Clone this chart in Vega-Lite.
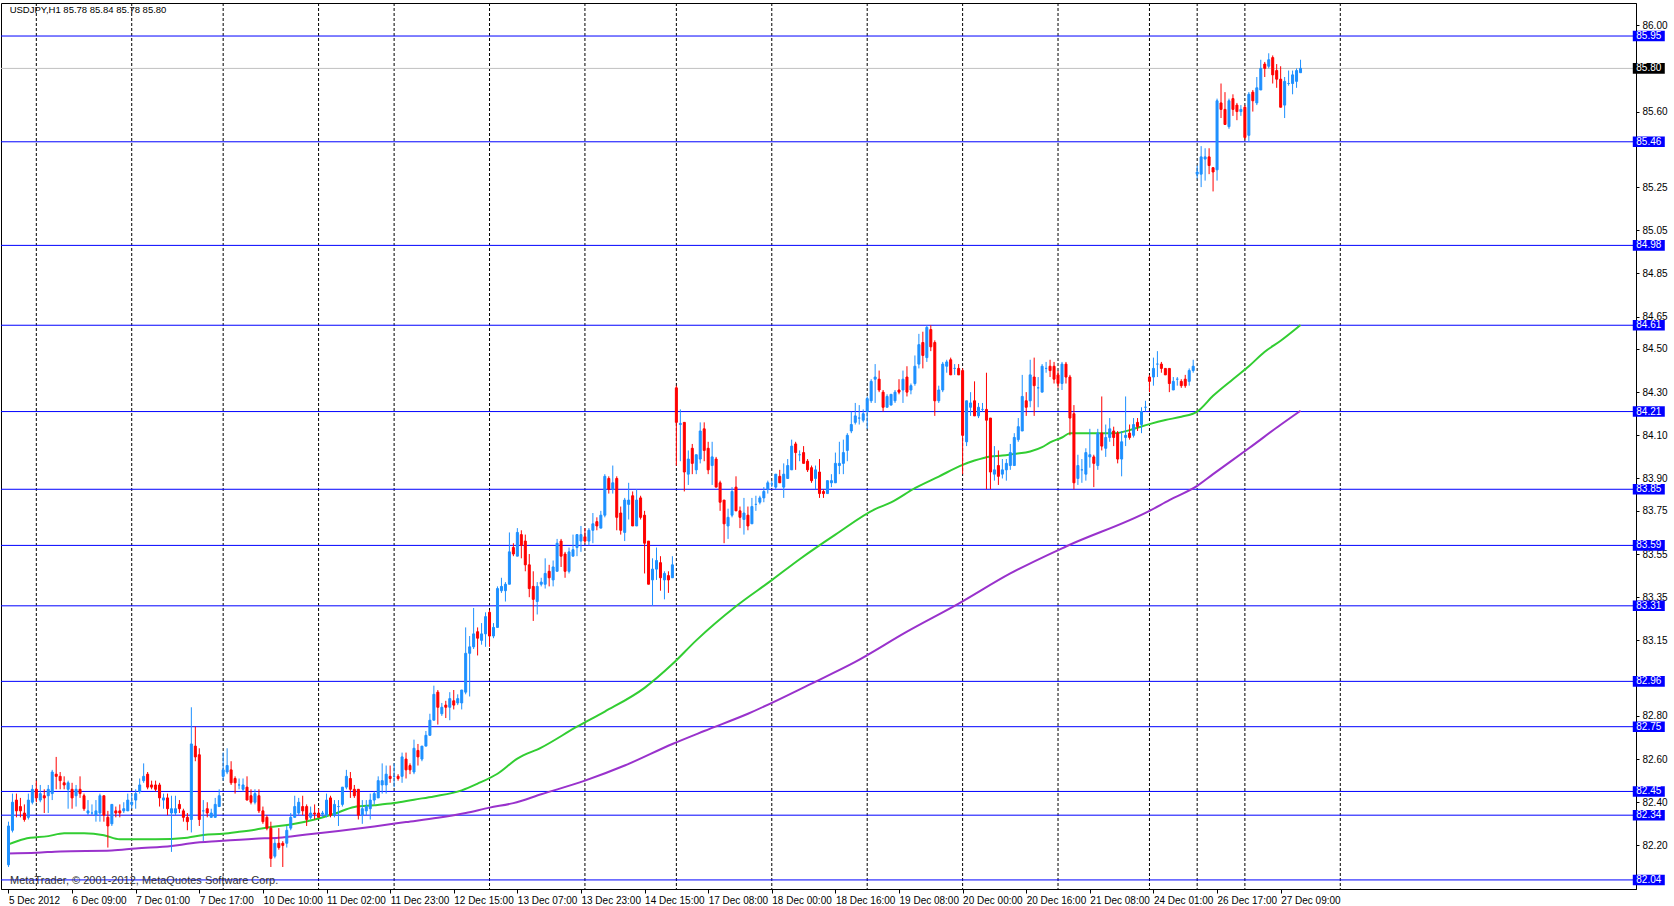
{
"$schema":"https://vega.github.io/schema/vega-lite/v6.json",
"width":1635,"height":886,
"autosize":{"type":"none"},
"padding":{"left":1,"top":3,"right":38,"bottom":17},
"background":"white",
"config":{"view":{"stroke":"#000000","strokeWidth":1},"font":"Liberation Sans"},
"resolve":{"axis":{"x":"independent","y":"independent"}},
"datasets":{
"bars":[
{"i":0,"o":82.11,"h":82.31,"l":82.10,"c":82.29},{"i":1,"o":82.27,"h":82.44,"l":82.26,"c":82.40},{"i":2,"o":82.41,"h":82.44,"l":82.33,"c":82.36},{"i":3,"o":82.38,"h":82.42,"l":82.33,"c":82.36},{"i":4,"o":82.35,"h":82.39,"l":82.31,"c":82.32},{"i":5,"o":82.33,"h":82.44,"l":82.32,"c":82.41},{"i":6,"o":82.40,"h":82.48,"l":82.39,"c":82.46},{"i":7,"o":82.46,"h":82.50,"l":82.40,"c":82.42},{"i":8,"o":82.41,"h":82.48,"l":82.40,"c":82.44},{"i":9,"o":82.43,"h":82.46,"l":82.35,"c":82.42},
{"i":10,"o":82.43,"h":82.48,"l":82.35,"c":82.46},{"i":11,"o":82.44,"h":82.55,"l":82.41,"c":82.54},{"i":12,"o":82.53,"h":82.61,"l":82.46,"c":82.52},{"i":13,"o":82.52,"h":82.54,"l":82.46,"c":82.50},{"i":14,"o":82.49,"h":82.52,"l":82.46,"c":82.48},{"i":15,"o":82.46,"h":82.50,"l":82.37,"c":82.49},{"i":16,"o":82.46,"h":82.49,"l":82.37,"c":82.42},{"i":17,"o":82.43,"h":82.48,"l":82.38,"c":82.46},{"i":18,"o":82.46,"h":82.52,"l":82.42,"c":82.44},{"i":19,"o":82.43,"h":82.44,"l":82.36,"c":82.37},
{"i":20,"o":82.35,"h":82.41,"l":82.34,"c":82.36},{"i":21,"o":82.35,"h":82.39,"l":82.34,"c":82.35},{"i":22,"o":82.34,"h":82.41,"l":82.31,"c":82.36},{"i":23,"o":82.35,"h":82.44,"l":82.31,"c":82.43},{"i":24,"o":82.43,"h":82.43,"l":82.31,"c":82.34},{"i":25,"o":82.33,"h":82.36,"l":82.19,"c":82.29},{"i":26,"o":82.30,"h":82.39,"l":82.29,"c":82.39},{"i":27,"o":82.36,"h":82.38,"l":82.33,"c":82.35},{"i":28,"o":82.36,"h":82.39,"l":82.33,"c":82.35},{"i":29,"o":82.36,"h":82.40,"l":82.35,"c":82.37},
{"i":30,"o":82.36,"h":82.44,"l":82.36,"c":82.41},{"i":31,"o":82.39,"h":82.44,"l":82.37,"c":82.40},{"i":32,"o":82.41,"h":82.46,"l":82.37,"c":82.44},{"i":33,"o":82.45,"h":82.51,"l":82.44,"c":82.48},{"i":34,"o":82.50,"h":82.58,"l":82.49,"c":82.52},{"i":35,"o":82.53,"h":82.54,"l":82.46,"c":82.47},{"i":36,"o":82.48,"h":82.50,"l":82.46,"c":82.47},{"i":37,"o":82.48,"h":82.50,"l":82.45,"c":82.46},{"i":38,"o":82.48,"h":82.49,"l":82.38,"c":82.42},{"i":39,"o":82.41,"h":82.44,"l":82.37,"c":82.42},
{"i":40,"o":82.42,"h":82.44,"l":82.34,"c":82.37},{"i":41,"o":82.35,"h":82.43,"l":82.17,"c":82.37},{"i":42,"o":82.35,"h":82.43,"l":82.34,"c":82.37},{"i":43,"o":82.39,"h":82.41,"l":82.35,"c":82.37},{"i":44,"o":82.36,"h":82.37,"l":82.31,"c":82.33},{"i":45,"o":82.33,"h":82.35,"l":82.27,"c":82.31},{"i":46,"o":82.32,"h":82.84,"l":82.26,"c":82.67},{"i":47,"o":82.66,"h":82.75,"l":82.59,"c":82.61},{"i":48,"o":82.62,"h":82.65,"l":82.29,"c":82.32},{"i":49,"o":82.36,"h":82.41,"l":82.22,"c":82.36},
{"i":50,"o":82.37,"h":82.40,"l":82.33,"c":82.35},{"i":51,"o":82.33,"h":82.37,"l":82.33,"c":82.35},{"i":52,"o":82.33,"h":82.42,"l":82.33,"c":82.39},{"i":53,"o":82.38,"h":82.46,"l":82.38,"c":82.43},{"i":54,"o":82.52,"h":82.63,"l":82.50,"c":82.55},{"i":55,"o":82.54,"h":82.65,"l":82.53,"c":82.57},{"i":56,"o":82.55,"h":82.59,"l":82.48,"c":82.49},{"i":57,"o":82.51,"h":82.52,"l":82.44,"c":82.49},{"i":58,"o":82.48,"h":82.51,"l":82.46,"c":82.48},{"i":59,"o":82.46,"h":82.51,"l":82.45,"c":82.48},
{"i":60,"o":82.47,"h":82.52,"l":82.41,"c":82.41},{"i":61,"o":82.43,"h":82.46,"l":82.39,"c":82.40},{"i":62,"o":82.40,"h":82.46,"l":82.39,"c":82.44},{"i":63,"o":82.43,"h":82.46,"l":82.35,"c":82.36},{"i":64,"o":82.36,"h":82.38,"l":82.30,"c":82.31},{"i":65,"o":82.33,"h":82.34,"l":82.27,"c":82.28},{"i":66,"o":82.28,"h":82.31,"l":82.10,"c":82.14},{"i":67,"o":82.15,"h":82.23,"l":82.14,"c":82.21},{"i":68,"o":82.21,"h":82.28,"l":82.18,"c":82.19},{"i":69,"o":82.21,"h":82.22,"l":82.10,"c":82.20},
{"i":70,"o":82.21,"h":82.29,"l":82.19,"c":82.27},{"i":71,"o":82.28,"h":82.35,"l":82.27,"c":82.33},{"i":72,"o":82.33,"h":82.43,"l":82.33,"c":82.38},{"i":73,"o":82.35,"h":82.42,"l":82.34,"c":82.40},{"i":74,"o":82.38,"h":82.43,"l":82.34,"c":82.36},{"i":75,"o":82.38,"h":82.39,"l":82.29,"c":82.32},{"i":76,"o":82.33,"h":82.38,"l":82.32,"c":82.35},{"i":77,"o":82.35,"h":82.39,"l":82.32,"c":82.345},{"i":78,"o":82.35,"h":82.37,"l":82.33,"c":82.33},{"i":79,"o":82.345,"h":82.36,"l":82.33,"c":82.35},
{"i":80,"o":82.34,"h":82.44,"l":82.33,"c":82.41},{"i":81,"o":82.42,"h":82.43,"l":82.33,"c":82.34},{"i":82,"o":82.34,"h":82.41,"l":82.33,"c":82.39},{"i":83,"o":82.38,"h":82.41,"l":82.29,"c":82.38},{"i":84,"o":82.39,"h":82.47,"l":82.38,"c":82.47},{"i":85,"o":82.47,"h":82.55,"l":82.46,"c":82.52},{"i":86,"o":82.51,"h":82.54,"l":82.42,"c":82.46},{"i":87,"o":82.46,"h":82.48,"l":82.42,"c":82.43},{"i":88,"o":82.46,"h":82.46,"l":82.32,"c":82.34},{"i":89,"o":82.34,"h":82.41,"l":82.30,"c":82.37},
{"i":90,"o":82.36,"h":82.41,"l":82.34,"c":82.38},{"i":91,"o":82.37,"h":82.44,"l":82.32,"c":82.41},{"i":92,"o":82.41,"h":82.45,"l":82.39,"c":82.44},{"i":93,"o":82.42,"h":82.52,"l":82.42,"c":82.50},{"i":94,"o":82.48,"h":82.58,"l":82.44,"c":82.50},{"i":95,"o":82.48,"h":82.57,"l":82.44,"c":82.53},{"i":96,"o":82.52,"h":82.57,"l":82.49,"c":82.51},{"i":97,"o":82.52,"h":82.58,"l":82.47,"c":82.52},{"i":98,"o":82.52,"h":82.53,"l":82.50,"c":82.51},{"i":99,"o":82.52,"h":82.63,"l":82.49,"c":82.61},
{"i":100,"o":82.60,"h":82.63,"l":82.51,"c":82.55},{"i":101,"o":82.57,"h":82.58,"l":82.53,"c":82.55},{"i":102,"o":82.54,"h":82.69,"l":82.53,"c":82.65},{"i":103,"o":82.64,"h":82.67,"l":82.57,"c":82.61},{"i":104,"o":82.60,"h":82.66,"l":82.59,"c":82.66},{"i":105,"o":82.66,"h":82.73,"l":82.66,"c":82.71},{"i":106,"o":82.71,"h":82.81,"l":82.71,"c":82.78},{"i":107,"o":82.78,"h":82.94,"l":82.78,"c":82.90},{"i":108,"o":82.91,"h":82.92,"l":82.76,"c":82.84},{"i":109,"o":82.81,"h":82.86,"l":82.80,"c":82.84},
{"i":110,"o":82.85,"h":82.87,"l":82.79,"c":82.84},{"i":111,"o":82.84,"h":82.91,"l":82.78,"c":82.88},{"i":112,"o":82.87,"h":82.92,"l":82.83,"c":82.85},{"i":113,"o":82.86,"h":82.90,"l":82.85,"c":82.88},{"i":114,"o":82.86,"h":82.92,"l":82.83,"c":82.92},{"i":115,"o":82.91,"h":83.21,"l":82.90,"c":83.09},{"i":116,"o":83.09,"h":83.17,"l":82.89,"c":83.12},{"i":117,"o":83.12,"h":83.30,"l":83.11,"c":83.18},{"i":118,"o":83.19,"h":83.21,"l":83.08,"c":83.16},{"i":119,"o":83.15,"h":83.23,"l":83.13,"c":83.18},
{"i":120,"o":83.18,"h":83.28,"l":83.12,"c":83.26},{"i":121,"o":83.28,"h":83.29,"l":83.12,"c":83.17},{"i":122,"o":83.17,"h":83.23,"l":83.16,"c":83.21},{"i":123,"o":83.21,"h":83.40,"l":83.21,"c":83.39},{"i":124,"o":83.38,"h":83.44,"l":83.37,"c":83.40},{"i":125,"o":83.38,"h":83.42,"l":83.33,"c":83.41},{"i":126,"o":83.41,"h":83.65,"l":83.41,"c":83.56},{"i":127,"o":83.58,"h":83.60,"l":83.54,"c":83.55},{"i":128,"o":83.54,"h":83.67,"l":83.54,"c":83.65},{"i":129,"o":83.64,"h":83.66,"l":83.53,"c":83.59},
{"i":130,"o":83.61,"h":83.64,"l":83.47,"c":83.50},{"i":131,"o":83.50,"h":83.55,"l":83.35,"c":83.39},{"i":132,"o":83.40,"h":83.47,"l":83.24,"c":83.34},{"i":133,"o":83.33,"h":83.42,"l":83.27,"c":83.40},{"i":134,"o":83.41,"h":83.44,"l":83.40,"c":83.42},{"i":135,"o":83.41,"h":83.53,"l":83.39,"c":83.46},{"i":136,"o":83.47,"h":83.50,"l":83.40,"c":83.44},{"i":137,"o":83.43,"h":83.52,"l":83.40,"c":83.49},{"i":138,"o":83.47,"h":83.62,"l":83.47,"c":83.60},{"i":139,"o":83.61,"h":83.62,"l":83.49,"c":83.54},
{"i":140,"o":83.55,"h":83.56,"l":83.44,"c":83.47},{"i":141,"o":83.47,"h":83.58,"l":83.46,"c":83.56},{"i":142,"o":83.54,"h":83.64,"l":83.54,"c":83.57},{"i":143,"o":83.58,"h":83.64,"l":83.54,"c":83.64},{"i":144,"o":83.61,"h":83.68,"l":83.56,"c":83.64},{"i":145,"o":83.63,"h":83.67,"l":83.60,"c":83.61},{"i":146,"o":83.61,"h":83.67,"l":83.59,"c":83.66},{"i":147,"o":83.66,"h":83.74,"l":83.60,"c":83.69},{"i":148,"o":83.70,"h":83.72,"l":83.66,"c":83.68},{"i":149,"o":83.67,"h":83.75,"l":83.67,"c":83.73},
{"i":150,"o":83.73,"h":83.92,"l":83.72,"c":83.91},{"i":151,"o":83.90,"h":83.91,"l":83.83,"c":83.85},{"i":152,"o":83.85,"h":83.96,"l":83.83,"c":83.88},{"i":153,"o":83.90,"h":83.91,"l":83.66,"c":83.72},{"i":154,"o":83.74,"h":83.77,"l":83.64,"c":83.66},{"i":155,"o":83.65,"h":83.81,"l":83.61,"c":83.80},{"i":156,"o":83.78,"h":83.88,"l":83.71,"c":83.80},{"i":157,"o":83.82,"h":83.84,"l":83.68,"c":83.68},{"i":158,"o":83.68,"h":83.85,"l":83.68,"c":83.80},{"i":159,"o":83.81,"h":83.82,"l":83.71,"c":83.72},
{"i":160,"o":83.73,"h":83.75,"l":83.46,"c":83.60},{"i":161,"o":83.61,"h":83.61,"l":83.41,"c":83.41},{"i":162,"o":83.43,"h":83.53,"l":83.31,"c":83.48},{"i":163,"o":83.48,"h":83.58,"l":83.43,"c":83.52},{"i":164,"o":83.51,"h":83.54,"l":83.38,"c":83.44},{"i":165,"o":83.43,"h":83.47,"l":83.34,"c":83.46},{"i":166,"o":83.45,"h":83.47,"l":83.37,"c":83.43},{"i":167,"o":83.44,"h":83.54,"l":83.44,"c":83.50},{"i":168,"o":84.32,"h":84.33,"l":83.96,"c":84.16},{"i":169,"o":84.15,"h":84.22,"l":83.98,"c":84.155},
{"i":170,"o":84.16,"h":84.16,"l":83.84,"c":83.93},{"i":171,"o":83.92,"h":84.03,"l":83.87,"c":83.99},{"i":172,"o":84.04,"h":84.06,"l":83.92,"c":83.97},{"i":173,"o":83.94,"h":84.01,"l":83.92,"c":84.01},{"i":174,"o":83.99,"h":84.16,"l":83.97,"c":84.12},{"i":175,"o":84.13,"h":84.16,"l":83.98,"c":84.03},{"i":176,"o":84.04,"h":84.07,"l":83.92,"c":83.94},{"i":177,"o":83.96,"h":84.07,"l":83.87,"c":84.00},{"i":178,"o":83.99,"h":84.00,"l":83.86,"c":83.86},{"i":179,"o":83.88,"h":83.89,"l":83.75,"c":83.79},
{"i":180,"o":83.80,"h":83.80,"l":83.60,"c":83.69},{"i":181,"o":83.68,"h":83.76,"l":83.62,"c":83.72},{"i":182,"o":83.73,"h":83.86,"l":83.72,"c":83.84},{"i":183,"o":83.86,"h":83.91,"l":83.75,"c":83.75},{"i":184,"o":83.75,"h":83.77,"l":83.67,"c":83.72},{"i":185,"o":83.71,"h":83.81,"l":83.64,"c":83.74},{"i":186,"o":83.73,"h":83.77,"l":83.66,"c":83.68},{"i":187,"o":83.69,"h":83.81,"l":83.69,"c":83.77},{"i":188,"o":83.78,"h":83.82,"l":83.75,"c":83.78},{"i":189,"o":83.79,"h":83.82,"l":83.78,"c":83.81},
{"i":190,"o":83.81,"h":83.86,"l":83.79,"c":83.84},{"i":191,"o":83.85,"h":83.89,"l":83.83,"c":83.88},{"i":192,"o":83.875,"h":83.89,"l":83.86,"c":83.875},{"i":193,"o":83.86,"h":83.92,"l":83.85,"c":83.92},{"i":194,"o":83.91,"h":83.94,"l":83.88,"c":83.88},{"i":195,"o":83.86,"h":83.97,"l":83.81,"c":83.92},{"i":196,"o":83.90,"h":83.99,"l":83.90,"c":83.96},{"i":197,"o":83.94,"h":84.08,"l":83.94,"c":84.05},{"i":198,"o":84.06,"h":84.07,"l":83.94,"c":84.02},{"i":199,"o":84.01,"h":84.03,"l":83.98,"c":84.01},
{"i":200,"o":84.02,"h":84.05,"l":83.97,"c":83.97},{"i":201,"o":83.98,"h":83.99,"l":83.93,"c":83.94},{"i":202,"o":83.95,"h":83.96,"l":83.88,"c":83.89},{"i":203,"o":83.90,"h":83.96,"l":83.85,"c":83.94},{"i":204,"o":83.93,"h":83.99,"l":83.81,"c":83.83},{"i":205,"o":83.84,"h":83.85,"l":83.81,"c":83.83},{"i":206,"o":83.83,"h":83.89,"l":83.83,"c":83.89},{"i":207,"o":83.88,"h":83.92,"l":83.86,"c":83.89},{"i":208,"o":83.88,"h":84.02,"l":83.88,"c":83.97},{"i":209,"o":83.96,"h":84.07,"l":83.92,"c":83.97},
{"i":210,"o":83.97,"h":84.08,"l":83.92,"c":84.02},{"i":211,"o":84.03,"h":84.11,"l":83.98,"c":84.10},{"i":212,"o":84.12,"h":84.21,"l":84.11,"c":84.15},{"i":213,"o":84.16,"h":84.25,"l":84.15,"c":84.19},{"i":214,"o":84.18,"h":84.24,"l":84.15,"c":84.18},{"i":215,"o":84.17,"h":84.22,"l":84.16,"c":84.20},{"i":216,"o":84.21,"h":84.28,"l":84.13,"c":84.27},{"i":217,"o":84.26,"h":84.36,"l":84.25,"c":84.35},{"i":218,"o":84.36,"h":84.43,"l":84.25,"c":84.37},{"i":219,"o":84.36,"h":84.40,"l":84.30,"c":84.31},
{"i":220,"o":84.30,"h":84.31,"l":84.21,"c":84.23},{"i":221,"o":84.23,"h":84.29,"l":84.23,"c":84.28},{"i":222,"o":84.24,"h":84.29,"l":84.24,"c":84.29},{"i":223,"o":84.26,"h":84.31,"l":84.25,"c":84.30},{"i":224,"o":84.31,"h":84.36,"l":84.29,"c":84.30},{"i":225,"o":84.31,"h":84.40,"l":84.25,"c":84.36},{"i":226,"o":84.37,"h":84.42,"l":84.28,"c":84.30},{"i":227,"o":84.31,"h":84.34,"l":84.29,"c":84.33},{"i":228,"o":84.34,"h":84.47,"l":84.33,"c":84.42},{"i":229,"o":84.43,"h":84.57,"l":84.41,"c":84.52},
{"i":230,"o":84.53,"h":84.58,"l":84.41,"c":84.47},{"i":231,"o":84.46,"h":84.61,"l":84.44,"c":84.60},{"i":232,"o":84.59,"h":84.61,"l":84.49,"c":84.51},{"i":233,"o":84.53,"h":84.54,"l":84.19,"c":84.26},{"i":234,"o":84.26,"h":84.33,"l":84.25,"c":84.31},{"i":235,"o":84.31,"h":84.44,"l":84.30,"c":84.43},{"i":236,"o":84.42,"h":84.45,"l":84.39,"c":84.44},{"i":237,"o":84.45,"h":84.46,"l":84.38,"c":84.38},{"i":238,"o":84.41,"h":84.43,"l":84.38,"c":84.41},{"i":239,"o":84.41,"h":84.43,"l":84.38,"c":84.38},
{"i":240,"o":84.40,"h":84.41,"l":83.92,"c":84.10},{"i":241,"o":84.07,"h":84.26,"l":84.05,"c":84.26},{"i":242,"o":84.23,"h":84.30,"l":84.19,"c":84.25},{"i":243,"o":84.26,"h":84.35,"l":84.19,"c":84.19},{"i":244,"o":84.19,"h":84.25,"l":84.18,"c":84.23},{"i":245,"o":84.22,"h":84.25,"l":84.21,"c":84.22},{"i":246,"o":84.22,"h":84.39,"l":83.85,"c":84.17},{"i":247,"o":84.18,"h":84.18,"l":83.85,"c":83.93},{"i":248,"o":83.92,"h":84.05,"l":83.89,"c":83.94},{"i":249,"o":83.96,"h":84.03,"l":83.87,"c":83.91},
{"i":250,"o":83.92,"h":83.99,"l":83.90,"c":83.94},{"i":251,"o":83.94,"h":83.99,"l":83.89,"c":83.97},{"i":252,"o":83.96,"h":84.06,"l":83.94,"c":84.02},{"i":253,"o":83.96,"h":84.11,"l":83.96,"c":84.09},{"i":254,"o":84.08,"h":84.18,"l":84.07,"c":84.14},{"i":255,"o":84.12,"h":84.38,"l":84.12,"c":84.28},{"i":256,"o":84.26,"h":84.30,"l":84.19,"c":84.23},{"i":257,"o":84.26,"h":84.45,"l":84.23,"c":84.38},{"i":258,"o":84.37,"h":84.46,"l":84.19,"c":84.33},{"i":259,"o":84.32,"h":84.37,"l":84.23,"c":84.32},
{"i":260,"o":84.30,"h":84.43,"l":84.30,"c":84.42},{"i":261,"o":84.41,"h":84.44,"l":84.39,"c":84.41},{"i":262,"o":84.42,"h":84.45,"l":84.37,"c":84.40},{"i":263,"o":84.42,"h":84.44,"l":84.34,"c":84.36},{"i":264,"o":84.38,"h":84.40,"l":84.32,"c":84.34},{"i":265,"o":84.34,"h":84.44,"l":84.31,"c":84.43},{"i":266,"o":84.43,"h":84.44,"l":84.34,"c":84.37},{"i":267,"o":84.37,"h":84.38,"l":84.10,"c":84.18},{"i":268,"o":84.20,"h":84.24,"l":83.85,"c":83.88},{"i":269,"o":83.90,"h":84.01,"l":83.87,"c":83.96},
{"i":270,"o":83.94,"h":83.99,"l":83.88,"c":83.94},{"i":271,"o":83.92,"h":84.04,"l":83.89,"c":84.02},{"i":272,"o":84.00,"h":84.13,"l":83.95,"c":84.01},{"i":273,"o":84.00,"h":84.01,"l":83.86,"c":83.97},{"i":274,"o":83.96,"h":84.13,"l":83.94,"c":84.11},{"i":275,"o":84.11,"h":84.28,"l":84.03,"c":84.05},{"i":276,"o":84.04,"h":84.15,"l":84.00,"c":84.09},{"i":277,"o":84.09,"h":84.18,"l":84.07,"c":84.13},{"i":278,"o":84.12,"h":84.14,"l":84.05,"c":84.09},{"i":279,"o":84.11,"h":84.12,"l":83.97,"c":83.99},
{"i":280,"o":83.99,"h":84.12,"l":83.91,"c":84.07},{"i":281,"o":84.09,"h":84.28,"l":84.05,"c":84.10},{"i":282,"o":84.11,"h":84.15,"l":84.08,"c":84.09},{"i":283,"o":84.10,"h":84.18,"l":84.09,"c":84.15},{"i":284,"o":84.16,"h":84.18,"l":84.12,"c":84.14},{"i":285,"o":84.15,"h":84.23,"l":84.11,"c":84.21},{"i":286,"o":84.23,"h":84.26,"l":84.21,"c":84.23},{"i":287,"o":84.37,"h":84.38,"l":84.30,"c":84.35},{"i":288,"o":84.37,"h":84.46,"l":84.33,"c":84.41},{"i":289,"o":84.43,"h":84.49,"l":84.37,"c":84.43},
{"i":290,"o":84.43,"h":84.44,"l":84.39,"c":84.41},{"i":291,"o":84.41,"h":84.41,"l":84.38,"c":84.38},{"i":292,"o":84.41,"h":84.41,"l":84.30,"c":84.34},{"i":293,"o":84.31,"h":84.37,"l":84.31,"c":84.35},{"i":294,"o":84.36,"h":84.37,"l":84.33,"c":84.36},{"i":295,"o":84.35,"h":84.36,"l":84.32,"c":84.33},{"i":296,"o":84.36,"h":84.38,"l":84.32,"c":84.33},{"i":297,"o":84.35,"h":84.41,"l":84.33,"c":84.40},{"i":298,"o":84.40,"h":84.45,"l":84.39,"c":84.42},{"i":299,"o":85.31,"h":85.35,"l":85.29,"c":85.32},
{"i":300,"o":85.31,"h":85.44,"l":85.25,"c":85.39},{"i":301,"o":85.38,"h":85.43,"l":85.28,"c":85.39},{"i":302,"o":85.39,"h":85.43,"l":85.31,"c":85.35},{"i":303,"o":85.34,"h":85.34,"l":85.23,"c":85.32},{"i":304,"o":85.33,"h":85.66,"l":85.28,"c":85.65},{"i":305,"o":85.64,"h":85.73,"l":85.57,"c":85.61},{"i":306,"o":85.61,"h":85.69,"l":85.54,"c":85.54},{"i":307,"o":85.53,"h":85.66,"l":85.52,"c":85.65},{"i":308,"o":85.66,"h":85.68,"l":85.58,"c":85.61},{"i":309,"o":85.63,"h":85.64,"l":85.56,"c":85.60},
{"i":310,"o":85.60,"h":85.63,"l":85.58,"c":85.61},{"i":311,"o":85.62,"h":85.63,"l":85.47,"c":85.48},{"i":312,"o":85.49,"h":85.69,"l":85.46,"c":85.68},{"i":313,"o":85.69,"h":85.70,"l":85.60,"c":85.65},{"i":314,"o":85.64,"h":85.76,"l":85.63,"c":85.71},{"i":315,"o":85.70,"h":85.84,"l":85.70,"c":85.80},{"i":316,"o":85.82,"h":85.83,"l":85.76,"c":85.80},{"i":317,"o":85.81,"h":85.87,"l":85.80,"c":85.84},{"i":318,"o":85.85,"h":85.86,"l":85.73,"c":85.77},{"i":319,"o":85.79,"h":85.82,"l":85.71,"c":85.75},
{"i":320,"o":85.75,"h":85.81,"l":85.62,"c":85.62},{"i":321,"o":85.63,"h":85.76,"l":85.57,"c":85.74},{"i":322,"o":85.73,"h":85.79,"l":85.72,"c":85.73},{"i":323,"o":85.73,"h":85.79,"l":85.68,"c":85.77},{"i":324,"o":85.74,"h":85.80,"l":85.71,"c":85.79},{"i":325,"o":85.78,"h":85.84,"l":85.78,"c":85.80}
],
"green":[
{"i":0,"v":82.205},{"i":4,"v":82.23},{"i":10,"v":82.243},{"i":14,"v":82.256},{"i":19,"v":82.256},{"i":24,"v":82.247},{"i":28,"v":82.228},{"i":37,"v":82.228},{"i":45,"v":82.236},{"i":49,"v":82.248},{"i":54,"v":82.254},{"i":58,"v":82.263},{"i":62,"v":82.273},{"i":66,"v":82.285},{"i":72,"v":82.30},{"i":77,"v":82.32},{"i":82,"v":82.347},{"i":87,"v":82.378},{"i":92,"v":82.386},{"i":97,"v":82.396},{"i":102,"v":82.412},{"i":107,"v":82.427},{"i":114,"v":82.455},{"i":118,"v":82.486},{"i":123,"v":82.532},{"i":128,"v":82.602},{"i":134,"v":82.653},{"i":143,"v":82.75},{"i":150,"v":82.82},{"i":160,"v":82.93},{"i":167,"v":83.04},{"i":173,"v":83.15},{"i":183,"v":83.308},{"i":192,"v":83.429},{"i":199,"v":83.526},{"i":208,"v":83.64},{"i":218,"v":83.758},{"i":222,"v":83.789},{"i":228,"v":83.855},{"i":234,"v":83.909},{"i":240,"v":83.963},{"i":243,"v":83.983},{"i":247,"v":84.002},{"i":250,"v":84.006},{"i":253,"v":84.014},{"i":257,"v":84.025},{"i":260,"v":84.045},{"i":262,"v":84.067},{"i":265,"v":84.09},{"i":267,"v":84.109},{"i":278,"v":84.109},{"i":282,"v":84.124},{"i":287,"v":84.152},{"i":291,"v":84.171},{"i":295,"v":84.186},{"i":299,"v":84.21},{"i":303,"v":84.283},{"i":308,"v":84.36},{"i":312,"v":84.42},{"i":316,"v":84.487},{"i":320,"v":84.538},{"i":325,"v":84.611}
],
"purple":[
{"i":0,"v":82.163},{"i":7,"v":82.166},{"i":13,"v":82.172},{"i":26,"v":82.176},{"i":32,"v":82.186},{"i":41,"v":82.197},{"i":46,"v":82.21},{"i":53,"v":82.22},{"i":62,"v":82.231},{"i":68,"v":82.236},{"i":75,"v":82.251},{"i":83,"v":82.267},{"i":92,"v":82.288},{"i":100,"v":82.308},{"i":108,"v":82.328},{"i":115,"v":82.35},{"i":121,"v":82.375},{"i":127,"v":82.396},{"i":134,"v":82.437},{"i":145,"v":82.50},{"i":155,"v":82.57},{"i":167,"v":82.67},{"i":175,"v":82.73},{"i":186,"v":82.81},{"i":202,"v":82.95},{"i":213,"v":83.05},{"i":226,"v":83.19},{"i":239,"v":83.32},{"i":252,"v":83.46},{"i":266,"v":83.585},{"i":287,"v":83.75},{"i":292,"v":83.80},{"i":299,"v":83.866},{"i":303,"v":83.92},{"i":312,"v":84.04},{"i":320,"v":84.149},{"i":325,"v":84.214}
],
"levels":[{"level":85.95},{"level":85.46},{"level":84.98},{"level":84.61},{"level":84.21},{"level":83.85},{"level":83.59},{"level":83.31},{"level":82.96},{"level":82.75},{"level":82.45},{"level":82.34},{"level":82.04}],
"current":[{"level":85.80}],
"days":[{"i":7},{"i":31},{"i":54},{"i":78},{"i":97},{"i":121},{"i":145},{"i":168},{"i":192},{"i":216},{"i":240},{"i":264},{"i":287},{"i":299},{"i":311},{"i":335}]
},
"layer":[
{"data":{"name":"days"},"mark":{"type":"rule","color":"#000000","strokeWidth":1,"strokeDash":[3,2]},
 "encoding":{"x":{"field":"i","type":"quantitative","scale":{"domain":[-0.625,408.125],"nice":false,"zero":false},
  "axis":{"orient":"bottom","title":null,"grid":false,"values":[0,16,32,48,64,80,96,112,128,144,160,176,192,208,224,240,256,272,288,304,320],
   "labelExpr":"['5 Dec 2012','6 Dec 09:00','7 Dec 01:00','7 Dec 17:00','10 Dec 10:00','11 Dec 02:00','11 Dec 23:00','12 Dec 15:00','13 Dec 07:00','13 Dec 23:00','14 Dec 15:00','17 Dec 08:00','18 Dec 00:00','18 Dec 16:00','19 Dec 08:00','20 Dec 00:00','20 Dec 16:00','21 Dec 08:00','24 Dec 01:00','26 Dec 17:00','27 Dec 09:00'][round(datum.value/16)]",
   "tickSize":4,"tickColor":"#000000","domainColor":"#000000","labelColor":"#000000","labelFont":"Liberation Sans","labelFontSize":10,"labelAlign":"left","labelBaseline":"top","labelPadding":2,"labelDx":0,"labelFlush":false,"labelOverlap":false,"labelBound":false}}}},
{"data":{"name":"current"},"mark":{"type":"rule","color":"#C0C0C0","strokeWidth":1},
 "encoding":{"y":{"field":"level","type":"quantitative","scale":{"domain":[81.998,86.103],"nice":false,"zero":false},
  "axis":{"orient":"right","title":null,"grid":false,"values":[86.0,85.6,85.25,85.05,84.85,84.65,84.5,84.3,84.1,83.9,83.75,83.55,83.35,83.15,82.8,82.6,82.4,82.2],"format":".2f",
   "tickSize":3,"tickColor":"#000000","domainColor":"#000000","labelColor":"#000000","labelFont":"Liberation Sans","labelFontSize":10,"labelPadding":3,"labelBaseline":"middle","labelOverlap":false,"labelFlush":false,"labelBound":false}}}},
{"data":{"name":"levels"},"mark":{"type":"rule","color":"#0000FF","strokeWidth":1},
 "encoding":{"y":{"field":"level","type":"quantitative","scale":{"domain":[81.998,86.103],"nice":false,"zero":false},"axis":null}}},
{"data":{"name":"green"},"mark":{"type":"line","color":"#32CD32","strokeWidth":2,"interpolate":"monotone"},
 "encoding":{"x":{"field":"i","type":"quantitative","scale":{"domain":[-0.625,408.125],"nice":false,"zero":false},"axis":null},
  "y":{"field":"v","type":"quantitative","scale":{"domain":[81.998,86.103],"nice":false,"zero":false},"axis":null}}},
{"data":{"name":"purple"},"mark":{"type":"line","color":"#9932CC","strokeWidth":2,"interpolate":"monotone"},
 "encoding":{"x":{"field":"i","type":"quantitative","scale":{"domain":[-0.625,408.125],"nice":false,"zero":false},"axis":null},
  "y":{"field":"v","type":"quantitative","scale":{"domain":[81.998,86.103],"nice":false,"zero":false},"axis":null}}},
{"data":{"name":"bars"},"mark":{"type":"rule","strokeWidth":1},
 "encoding":{"x":{"field":"i","type":"quantitative","scale":{"domain":[-0.625,408.125],"nice":false,"zero":false},"axis":null},
  "y":{"field":"l","type":"quantitative","scale":{"domain":[81.998,86.103],"nice":false,"zero":false},"axis":null},
  "y2":{"field":"h"},
  "color":{"condition":{"test":"datum.c >= datum.o","value":"#1E90FF"},"value":"#FF0000"}}},
{"data":{"name":"bars"},"mark":{"type":"bar","size":2,"strokeWidth":1,"opacity":1},
 "encoding":{"x":{"field":"i","type":"quantitative","scale":{"domain":[-0.625,408.125],"nice":false,"zero":false},"axis":null},
  "y":{"field":"o","type":"quantitative","scale":{"domain":[81.998,86.103],"nice":false,"zero":false},"axis":null},
  "y2":{"field":"c"},
  "fill":{"condition":{"test":"datum.c >= datum.o","value":"#1E90FF"},"value":"#FF0000"},
  "stroke":{"condition":{"test":"datum.c >= datum.o","value":"#1E90FF"},"value":"#FF0000"}}},
{"data":{"values":[{"t":"USDJPY,H1  85.78 85.84 85.78 85.80"}]},"mark":{"type":"text","align":"left","baseline":"middle","font":"Liberation Sans","fontSize":9.5,"color":"#000000"},
 "encoding":{"x":{"datum":0.3,"type":"quantitative","scale":{"domain":[-0.625,408.125],"nice":false,"zero":false},"axis":null},
  "y":{"datum":86.07,"type":"quantitative","scale":{"domain":[81.998,86.103],"nice":false,"zero":false},"axis":null},
  "text":{"field":"t"}}},
{"data":{"values":[{"t":"MetaTrader, © 2001-2012, MetaQuotes Software Corp."}]},"mark":{"type":"text","align":"left","baseline":"middle","font":"Liberation Sans","fontSize":11,"color":"#303030"},
 "encoding":{"x":{"datum":0.4,"type":"quantitative","scale":{"domain":[-0.625,408.125],"nice":false,"zero":false},"axis":null},
  "y":{"datum":82.035,"type":"quantitative","scale":{"domain":[81.998,86.103],"nice":false,"zero":false},"axis":null},
  "text":{"field":"t"}}},
{"data":{"name":"levels"},"mark":{"type":"point","shape":"M-1,-0.33H1V0.33H-1Z","size":1024,"filled":true,"opacity":1,"color":"#0000FF","strokeWidth":0},
 "encoding":{"x":{"datum":412.6,"type":"quantitative","scale":{"domain":[-0.625,408.125],"nice":false,"zero":false},"axis":null},
  "y":{"field":"level","type":"quantitative","scale":{"domain":[81.998,86.103],"nice":false,"zero":false},"axis":null}}},
{"data":{"name":"current"},"mark":{"type":"point","shape":"M-1,-0.33H1V0.33H-1Z","size":1024,"filled":true,"opacity":1,"color":"#000000","strokeWidth":0},
 "encoding":{"x":{"datum":412.6,"type":"quantitative","scale":{"domain":[-0.625,408.125],"nice":false,"zero":false},"axis":null},
  "y":{"field":"level","type":"quantitative","scale":{"domain":[81.998,86.103],"nice":false,"zero":false},"axis":null}}},
{"data":{"name":"levels"},"mark":{"type":"text","align":"center","baseline":"middle","font":"Liberation Sans","fontSize":10,"color":"#FFFFFF"},
 "encoding":{"x":{"datum":412.6,"type":"quantitative","scale":{"domain":[-0.625,408.125],"nice":false,"zero":false},"axis":null},
  "y":{"field":"level","type":"quantitative","scale":{"domain":[81.998,86.103],"nice":false,"zero":false},"axis":null},
  "text":{"field":"level","type":"quantitative","format":".2f"}}},
{"data":{"name":"current"},"mark":{"type":"text","align":"center","baseline":"middle","font":"Liberation Sans","fontSize":10,"color":"#FFFFFF"},
 "encoding":{"x":{"datum":412.6,"type":"quantitative","scale":{"domain":[-0.625,408.125],"nice":false,"zero":false},"axis":null},
  "y":{"field":"level","type":"quantitative","scale":{"domain":[81.998,86.103],"nice":false,"zero":false},"axis":null},
  "text":{"field":"level","type":"quantitative","format":".2f"}}}
]
}
